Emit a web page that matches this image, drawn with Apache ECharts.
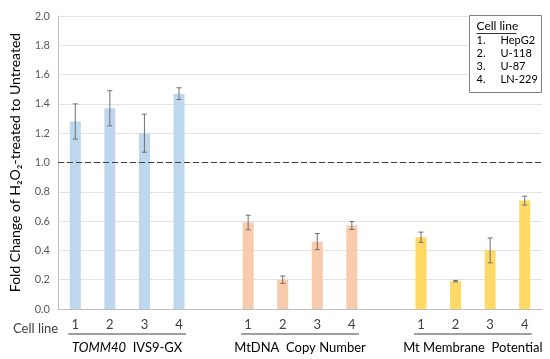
<!DOCTYPE html>
<html><head><meta charset="utf-8">
<script src="https://cdn.jsdelivr.net/npm/echarts@6/dist/echarts.min.js"></script>
<style>html,body{margin:0;padding:0;background:#fff}#c{width:550px;height:359px}</style>
</head><body><div id="c"></div>
<script>
// ---- data ----
const categories = ['1','2','3','4','','1','2','3','4','','1','2','3','4'];
const groupStarts = [0, 5, 10];
const tommValues = [1.28, 1.37, 1.20, 1.47];
const tommErr    = [0.12, 0.12, 0.13, 0.04];
const mtdnaValues = [0.59, 0.20, 0.46, 0.57];
const mtdnaErr    = [0.05, 0.025, 0.055, 0.027];
const mmpValues = [0.49, 0.19, 0.40, 0.74];
const mmpErr    = [0.035, 0.005, 0.085, 0.03];
const groupLabels = ['{i|TOMM40}  IVS9-GX', 'MtDNA  Copy Number', 'Mt Membrane  Potential'];
const axisTitleRow = 'Cell line';
const legendTitle = 'Cell line';
const cellLines = ['HepG2', 'U-118', 'U-87', 'LN-229'];
const referenceLevel = 1.0;
const yMin = 0, yMax = 2.0, yStep = 0.2;

// ---- build ----
const FONT = 'Lato';
const colors = ['#BDD7EE', '#F8CBAD', '#FFD966'];
const groups = [
  {vals: tommValues, err: tommErr},
  {vals: mtdnaValues, err: mtdnaErr},
  {vals: mmpValues, err: mmpErr}
];
const barSeries = groups.map((g, gi) => {
  const data = categories.map(() => '-');
  g.vals.forEach((v, i) => { data[groupStarts[gi] + i] = v; });
  return {
    type: 'bar', data, barWidth: 11, barGap: '-100%',
    itemStyle: {color: colors[gi]}, silent: true, z: 2
  };
});
const errData = [];
groups.forEach((g, gi) => g.vals.forEach((v, i) => {
  errData.push([groupStarts[gi] + i, v - g.err[i], v + g.err[i]]);
}));
barSeries[0].markLine = {
  silent: true, symbol: ['none', 'none'], label: {show: false},
  lineStyle: {color: '#404040', type: [6, 3], width: 1},
  data: [{yAxis: referenceLevel}]
};

const chart = echarts.init(document.getElementById('c'), null, {renderer: 'canvas'});
chart.setOption({
  animation: false,
  textStyle: {fontFamily: FONT},
  grid: {left: 53, right: 8, top: 16, bottom: 50},
  xAxis: {
    type: 'category', data: categories,
    axisLine: {lineStyle: {color: '#bfbfbf'}},
    axisTick: {show: false},
    axisLabel: {color: '#404040', fontSize: 13, margin: 9, interval: 0, fontFamily: FONT}
  },
  yAxis: {
    type: 'value', min: yMin, max: yMax, interval: yStep,
    name: 'Fold Change of H\u2082O\u2082-treated to Untreated',
    nameLocation: 'middle', nameGap: 36,
    nameTextStyle: {color: '#000', fontSize: 14, fontFamily: FONT},
    axisLine: {show: true, lineStyle: {color: '#bfbfbf'}},
    axisTick: {show: false},
    axisLabel: {color: '#595959', fontSize: 11, margin: 8, formatter: v => v.toFixed(1), fontFamily: FONT},
    splitLine: {lineStyle: {color: '#e3e3e3'}}
  },
  series: [
    ...barSeries,
    {
      type: 'custom', data: errData, z: 5, silent: true,
      renderItem(params, api) {
        const x = api.value(0);
        const lo = api.coord([x, api.value(1)]);
        const hi = api.coord([x, api.value(2)]);
        const w = 2.5;
        const st = {stroke: '#707070', lineWidth: 1};
        return {type: 'group', children: [
          {type: 'line', shape: {x1: lo[0], y1: lo[1], x2: hi[0], y2: hi[1]}, style: st},
          {type: 'line', shape: {x1: lo[0]-w, y1: lo[1], x2: lo[0]+w, y2: lo[1]}, style: st},
          {type: 'line', shape: {x1: hi[0]-w, y1: hi[1], x2: hi[0]+w, y2: hi[1]}, style: st}
        ]};
      }
    }
  ]
});

// annotations below axis and legend box
const zeroY = chart.convertToPixel({yAxisIndex: 0}, 0);
const gfx = [];
gfx.push({type: 'text', left: 13, top: zeroY + 13,
  style: {text: axisTitleRow, fill: '#404040', font: '13px ' + FONT}});
groupStarts.forEach((s, gi) => {
  const x1 = chart.convertToPixel({xAxisIndex: 0}, s) - 7;
  const x2 = chart.convertToPixel({xAxisIndex: 0}, s + 3) + 7;
  gfx.push({type: 'line', shape: {x1, y1: zeroY + 25, x2, y2: zeroY + 25},
    style: {stroke: '#404040', lineWidth: 1}});
  gfx.push({type: 'text', x: (x1 + x2) / 2, y: zeroY + 39,
    style: {text: groupLabels[gi], fill: '#000', font: '13px ' + FONT,
      textAlign: 'center', textVerticalAlign: 'middle',
      rich: {i: {fontStyle: 'italic', fontSize: 13, fontFamily: FONT, fill: '#000'}}}});
});
// legend box
const lg = {type: 'group', left: 469, top: 15, children: [
  {type: 'rect', shape: {x: 0, y: 0, width: 72, height: 77},
    style: {fill: '#fff', stroke: '#808080', lineWidth: 1}},
  {type: 'text', x: 7, y: 11, style: {text: legendTitle, fill: '#000', font: '12px ' + FONT, textVerticalAlign: 'middle'}},
  {type: 'line', shape: {x1: 7, y1: 18, x2: 47, y2: 18}, style: {stroke: '#000', lineWidth: 0.8}}
]};
cellLines.forEach((n, i) => {
  const y = 25 + i * 13;
  lg.children.push({type: 'text', x: 7, y, style: {text: (i + 1) + '.', fill: '#000', font: '11px ' + FONT, textVerticalAlign: 'middle'}});
  lg.children.push({type: 'text', x: 31, y, style: {text: n, fill: '#000', font: '11px ' + FONT, textVerticalAlign: 'middle'}});
});
gfx.push(lg);
chart.setOption({graphic: gfx});
</script></body></html>
